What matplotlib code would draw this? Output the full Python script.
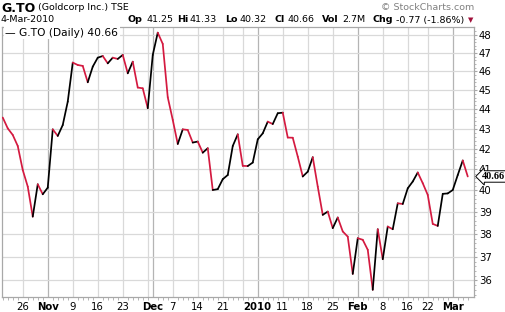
import numpy as np
import pandas as pd
import matplotlib
matplotlib.use("Agg")
import matplotlib.pyplot as plt
from matplotlib.ticker import FixedLocator, NullFormatter

# daily closes, G.TO, 20-Oct-2009 .. 4-Mar-2010
closes = [
    43.57, 43.02, 42.69, 42.14, 40.97, 40.18, 38.79, 40.29, 39.82, 40.13,
    42.97, 42.64, 43.19, 44.39, 46.47, 46.34, 46.29, 45.41, 46.25, 46.74,
    46.83, 46.43, 46.74, 46.67, 46.89, 45.89, 46.52, 45.13, 45.09, 44.05,
    46.89, 48.13, 47.50, 44.62, 43.45, 42.24, 42.97, 42.94, 42.31, 42.36,
    41.81, 42.03, 40.02, 40.06, 40.53, 40.73, 42.14, 42.72, 41.17, 41.16,
    41.33, 42.47, 42.77, 43.36, 43.24, 43.79, 43.82, 42.56, 42.55, 41.62,
    40.66, 40.89, 41.59, 40.18, 38.87, 39.02, 38.27, 38.75, 38.12, 37.89,
    36.27, 37.82, 37.75, 37.31, 35.60, 38.22, 36.90, 38.34, 38.22, 39.40,
    39.37, 40.10, 40.42, 40.85, 40.34, 39.79, 38.46, 38.37, 39.84, 39.86,
    40.02, 40.73, 41.43, 40.66,
]
holidays = ["2009-12-25", "2009-12-28", "2010-01-01", "2010-02-15"]

tick_dates = ["2009-10-26", "2009-11-02", "2009-11-09", "2009-11-16", "2009-11-23",
              "2009-12-01", "2009-12-07", "2009-12-14", "2009-12-21", "2010-01-04",
              "2010-01-11", "2010-01-18", "2010-01-25", "2010-02-01", "2010-02-08",
              "2010-02-16", "2010-02-22", "2010-03-01"]
tick_labels = ["26", "Nov", "9", "16", "23", "Dec", "7", "14", "21", "2010",
               "11", "18", "25", "Feb", "8", "16", "22", "Mar"]
bold_labels = {"Nov", "Dec", "2010", "Feb", "Mar"}
price_ticks = list(range(36, 49))

RED = "#d41a40"
W, H = 506, 312

dates = pd.bdate_range("2009-10-20", "2010-03-04")
dates = dates[~dates.isin(pd.to_datetime(holidays))]
idx = np.arange(len(dates))


def fx(x):
    return x / W


def fy(y):
    return 1 - y / H


fig = plt.figure(figsize=(W / 100, H / 100), dpi=100)
left, right, top, bottom = 2.5, 474, 26.5, 297
ax = fig.add_axes([fx(left), 1 - bottom / H, (right - left) / W, (bottom - top) / H])
ax.set_yscale("log")
ax.set_xlim(-0.05, 94.25)
ax.set_ylim(35.30, 48.48)

# grid: weeks light, months darker
week_start = [i for i in idx[1:] if dates[i].week != dates[i - 1].week]
month_start = [i for i in idx[1:] if dates[i].month != dates[i - 1].month]
for i in week_start:
    if i not in month_start:
        ax.axvline(i, color="#d9d9d9", lw=0.9, zorder=0)
for i in month_start:
    ax.axvline(i, color="#b4b4b4", lw=0.9, zorder=0)
for p in price_ticks:
    ax.axhline(p, color="#d9d9d9", lw=0.9, zorder=0)

# up segments black, down segments red
for i in range(len(closes) - 1):
    c = RED if closes[i + 1] < closes[i] else "black"
    ax.plot(idx[i:i + 2], closes[i:i + 2], color=c, lw=1.25,
            solid_capstyle="round", zorder=3)

for s in ax.spines.values():
    s.set_color("#a8a8a8")
    s.set_linewidth(0.9)

# x axis
pos = [int(np.where(dates == pd.Timestamp(d))[0][0]) for d in tick_dates]
ax.xaxis.set_major_locator(FixedLocator(pos))
ax.set_xticklabels(tick_labels)
for t in ax.get_xticklabels():
    t.set_fontsize(7.3)
    if t.get_text() in bold_labels:
        t.set_fontweight("bold")
ax.xaxis.set_minor_locator(FixedLocator(idx))
ax.tick_params(axis="x", which="major", length=0, pad=3.5)
ax.tick_params(axis="x", which="minor", length=2, color="#a8a8a8", width=0.6)

# y axis on the right
ax.yaxis.tick_right()
ax.yaxis.set_major_locator(FixedLocator(price_ticks))
ax.yaxis.set_minor_locator(FixedLocator(np.arange(35.4, 48.4, 0.2)))
ax.yaxis.set_minor_formatter(NullFormatter())
ax.set_yticklabels([str(p) for p in price_ticks])
ax.tick_params(axis="y", which="major", length=2, pad=1.5, labelsize=7.3,
               color="#a8a8a8")
ax.tick_params(axis="y", which="minor", length=1.5, width=0.6, color="#a8a8a8")

# legend box top-left
ax.text(0.006, 0.995, "\u2014 G.TO (Daily) 40.66", transform=ax.transAxes,
        fontsize=7.7, va="top", ha="left", zorder=5,
        bbox=dict(facecolor="white", edgecolor="none", pad=1.0))

# last price marker
ax.annotate("40.66", xy=(1.0, closes[-1]), xycoords=("axes fraction", "data"),
            xytext=(5.6, 0), textcoords="offset points", va="center", ha="left",
            fontsize=7.4, fontweight="bold", family="Liberation Serif",
            bbox=dict(boxstyle="larrow,pad=0.12", facecolor="white",
                      edgecolor="black", lw=0.7),
            annotation_clip=False, zorder=6)

# header
fig.text(fx(1), fy(8), "G.TO", fontsize=9, fontweight="bold", va="center")
fig.text(fx(38), fy(8), "(Goldcorp Inc.) TSE", fontsize=6.8, va="center")
fig.text(fx(474), fy(7), "\u00a9 StockCharts.com", fontsize=6.8, va="center",
         ha="right", color="#808080")
fig.text(fx(1), fy(20), "4-Mar-2010", fontsize=6.8, va="center")
row = [("Op", 128, True), ("41.25", 147, False), ("Hi", 177, True),
       ("41.33", 190, False), ("Lo", 225, True), ("40.32", 240, False),
       ("Cl", 275, True), ("40.66", 287.5, False), ("Vol", 322, True),
       ("2.7M", 342, False), ("Chg", 373, True), ("-0.77 (-1.86%)", 396, False)]
for txt, x, b in row:
    fig.text(fx(x), fy(20), txt, fontsize=6.8, va="center",
             fontweight="bold" if b else "normal")
fig.text(fx(471), fy(20), "\u25bc", fontsize=5, va="center", ha="center",
         color="#a0103a")

fig.savefig("out.png", dpi=100)
